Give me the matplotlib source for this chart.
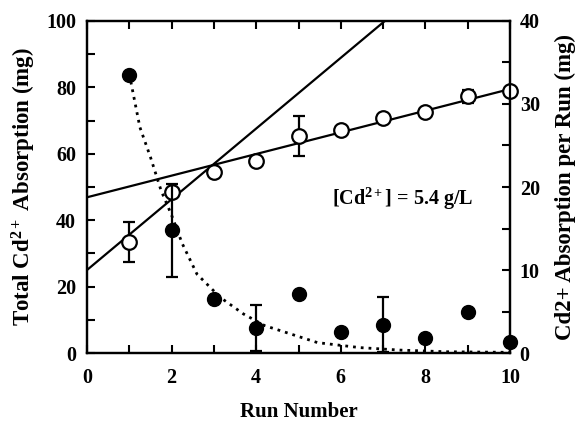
import matplotlib
matplotlib.use('Agg')
import matplotlib.pyplot as plt
from matplotlib.ticker import MultipleLocator

plt.rcParams['font.family'] = 'Liberation Serif'
plt.rcParams['font.weight'] = 'bold'
plt.rcParams['mathtext.fontset'] = 'custom'
plt.rcParams['mathtext.rm'] = 'Liberation Serif:bold'
plt.rcParams['mathtext.it'] = 'Liberation Serif:bold'
plt.rcParams['mathtext.bf'] = 'Liberation Serif:bold'

# total absorption (left axis, open circles)
runs = [1, 2, 3, 4, 5, 6, 7, 8, 9, 10]
total_abs = [33.4, 48.5, 54.6, 57.8, 65.3, 67.3, 70.9, 72.5, 77.3, 78.9]
total_err = [6.0, 0, 0, 0, 6.1, 0, 0, 0, 2.0, 0]

# absorption per run (right axis, filled circles)
per_run = [33.5, 14.8, 6.5, 3.0, 7.1, 2.5, 3.4, 1.8, 5.0, 1.3]
per_run_err = [0, 5.6, 0, 2.8, 0, 0, 3.3, 0, 0, 0]

# fitted lines on left axis (endpoints)
fit1_x = [0, 7.04]
fit1_y = [25.0, 100.0]
fit2_x = [0, 10]
fit2_y = [46.9, 79.5]

# dotted decay curve on right axis
decay_x = [1, 1.25, 1.5, 1.75, 2, 2.25, 2.6, 3.15, 3.7, 4.2, 4.75, 5.45, 6.45, 7.4, 8.5, 10]
decay_y = [33.6, 27.2, 23.6, 19.6, 16.6, 13.2, 9.5, 6.7, 4.7, 3.3, 2.4, 1.25, 0.65, 0.35, 0.15, 0.08]

fig = plt.figure(figsize=(5.82, 4.25), dpi=100)
ax = fig.add_axes([0.1495, 0.1694, 0.7268, 0.7812])
ax2 = ax.twinx()

ax.plot(fit1_x, fit1_y, color='black', lw=1.6, zorder=2)
ax.plot(fit2_x, fit2_y, color='black', lw=1.6, zorder=2)
ax.errorbar([r for r, e in zip(runs, total_err) if e > 0],
            [t for t, e in zip(total_abs, total_err) if e > 0],
            yerr=[e for e in total_err if e > 0], fmt='none',
            ecolor='black', elinewidth=1.6, capsize=4.5, capthick=1.6, zorder=3)
ax.plot(runs, total_abs, 'o', ms=10.5, mfc='white', mec='black', mew=1.6,
        zorder=4, clip_on=False)

ax2.plot(decay_x, decay_y, color='black', ls=(0, (1, 1.8)), lw=2.0)
ax2.errorbar([r for r, e in zip(runs, per_run_err) if e > 0],
             [p for p, e in zip(per_run, per_run_err) if e > 0],
             yerr=[e for e in per_run_err if e > 0], fmt='none',
             ecolor='black', elinewidth=1.6, capsize=4.5, capthick=1.6)
ax2.plot(runs, per_run, 'o', ms=10, color='black', clip_on=False)

ax.set_xlim(0, 10)
ax.set_ylim(0, 100)
ax2.set_ylim(0, 40)

ax.xaxis.set_major_locator(MultipleLocator(2))
ax.xaxis.set_minor_locator(MultipleLocator(1))
ax.yaxis.set_major_locator(MultipleLocator(20))
ax.yaxis.set_minor_locator(MultipleLocator(10))
ax2.yaxis.set_major_locator(MultipleLocator(10))
ax2.yaxis.set_minor_locator(MultipleLocator(5))

ax.tick_params(which='both', direction='in', top=True, right=False,
               length=6, width=1.5, labelsize=14.5)
ax.tick_params(axis='x', pad=11)
ax.tick_params(axis='y', pad=8)
ax2.tick_params(which='both', direction='in', length=6, width=1.5,
                labelsize=14.5, pad=7)
for a in (ax, ax2):
    for s in a.spines.values():
        s.set_linewidth(1.6)

ax.set_xlabel('Run Number', fontsize=15, fontweight='bold')
ax.xaxis.set_label_coords(0.5, -0.148)
ax.set_ylabel('Total Cd$^{2+}$ Absorption (mg)', fontsize=16.5,
              fontweight='bold', va='center')
ax.yaxis.set_label_coords(-0.149, 0.5)
ax2.set_ylabel('Cd2+ Absorption per Run (mg)', fontsize=16.5,
               fontweight='bold', va='center', rotation=90)
ax2.yaxis.set_label_coords(1.132, 0.5)

ax.text(5.79, 46.5, '[Cd$^{2+}$] = 5.4 g/L', fontsize=14.5, fontweight='bold',
        ha='left', va='center')

fig.savefig('out.png', dpi=100)
